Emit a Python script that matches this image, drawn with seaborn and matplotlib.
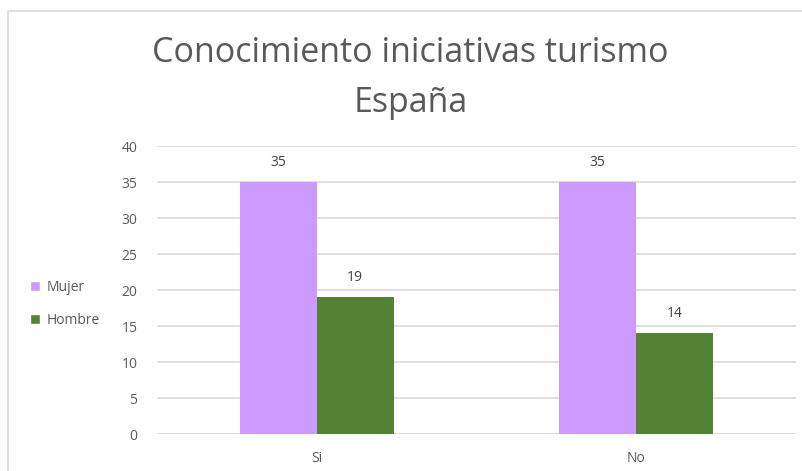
import pandas as pd
import seaborn as sns
import matplotlib.pyplot as plt
from matplotlib.patches import Rectangle, Patch

categorias = ['Si', 'No']
mujer = [35, 35]
hombre = [19, 14]
series = ['Mujer', 'Hombre']
colores = ['#CC99FF', '#548235']

df = pd.DataFrame({
    'respuesta': categorias * 2,
    'valor': mujer + hombre,
    'sexo': [series[0]] * len(categorias) + [series[1]] * len(categorias),
})

sns.set_style('white')
plt.rcParams['font.family'] = ['Open Sans', 'DejaVu Sans']
gris = '#595959'

fig = plt.figure(figsize=(8.03, 4.71), dpi=100)
ax = fig.add_axes([0.1955, 0.0785, 0.7955, 0.6115])

sns.barplot(data=df, x='respuesta', y='valor', hue='sexo', palette=colores,
            width=0.483, saturation=1, linewidth=0, ax=ax, legend=False)

for cont in ax.containers:
    ax.bar_label(cont, padding=9, fontsize=10, color='#404040')

ax.set_ylim(0, 40)
ax.set_yticks(range(0, 41, 5))
ax.yaxis.grid(True, color='#D9D9D9', linewidth=1.2)
ax.set_axisbelow(True)
for s in ax.spines.values():
    s.set_visible(False)
ax.tick_params(axis='both', length=0, labelsize=10, labelcolor=gris)
ax.tick_params(axis='y', pad=14)
ax.tick_params(axis='x', pad=12)
ax.set_xlabel('')
ax.set_ylabel('')

fig.text(0.5115, 0.835, 'Conocimiento iniciativas turismo\nEspaña', ha='center',
         va='center', fontsize=24.5, color=gris, linespacing=1.6)

handles = [Patch(facecolor=c, label=l) for c, l in zip(colores, series)]
fig.legend(handles=handles, loc='center left', bbox_to_anchor=(0.022, 0.355),
           frameon=False, fontsize=10, labelcolor=gris, handlelength=0.7,
           handleheight=0.7, handletextpad=0.5, labelspacing=1.3)

fig.patches.append(Rectangle((0.01, -0.1), 1.2, 1.1 - 11 / 471, transform=fig.transFigure,
                             fill=False, edgecolor='#D9D9D9', linewidth=1.2))

fig.savefig('out.png', dpi=100)
